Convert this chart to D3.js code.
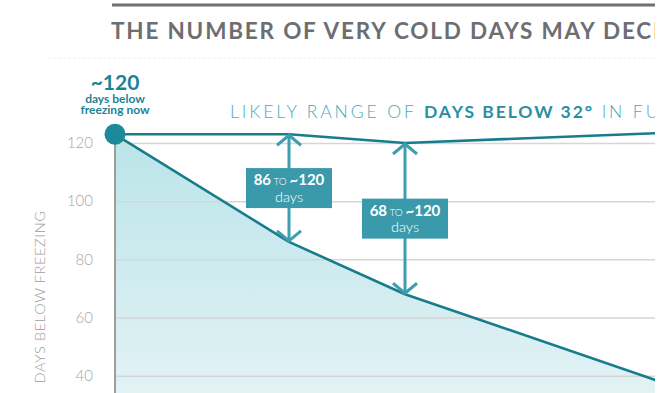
<!DOCTYPE html>
<html>
<head>
<meta charset="utf-8">
<script src="https://cdn.jsdelivr.net/npm/d3@7"></script>
<style>
  html, body { margin: 0; padding: 0; background: #fff; }
  svg { display: block; font-family: Lato, "Open Sans", sans-serif; }
</style>
</head>
<body>
<svg id="chart" width="666" height="393"></svg>
<script>
// Projected days below freezing (32°F)
const years      = [2020, 2050, 2070, 2115];
const fewestDays = [123, 86, 68, 37.3];     // lower edge of the likely range
const mostDays   = [123, 123, 120, 123.5];  // upper edge of the likely range
const yTicks     = [40, 60, 80, 100, 120];

// Range callouts
const calloutYears = [2050, 2070];
const calloutLow   = [86, 68];
const calloutHigh  = [123, 120];
const calloutHighLabel = "~120";

const titleText  = "THE NUMBER OF VERY COLD DAYS MAY DECREASE";
const rangeParts = ["LIKELY RANGE OF ", "DAYS BELOW 32°", " IN FUTURE"];
const yTitle     = "DAYS BELOW FREEZING";
const nowParts   = ["~120", "days below", "freezing now"];

const svg = d3.select("#chart");
const rightEdge = 655;

const x = d3.scaleLinear().domain([2020, 2070]).range([115, 405]);
const y = d3.scaleLinear().domain([40, 120]).range([375.7, 143]);

// Spread a run of text so that its first `count` characters cover `width` px
function spreadTo(sel, width, count) {
  const str = sel.text();
  const n = count || str.length;
  sel.attr("letter-spacing", 0);
  const node = sel.node();
  const w = n === str.length ? node.getComputedTextLength() : node.getSubStringLength(0, n);
  sel.attr("letter-spacing", (width - w) / n);
}

const defs = svg.append("defs");
defs.append("clipPath").attr("id", "frame")
  .append("rect").attr("x", 0).attr("y", 0).attr("width", rightEdge).attr("height", 393);

const grad = defs.append("linearGradient").attr("id", "areaFill")
  .attr("gradientUnits", "userSpaceOnUse")
  .attr("x1", 0).attr("y1", y(123)).attr("x2", 0).attr("y2", 393);
grad.append("stop").attr("offset", "0%").attr("stop-color", "#bae4e9");
grad.append("stop").attr("offset", "100%").attr("stop-color", "#e2f2f5");

const root = svg.append("g").attr("clip-path", "url(#frame)");

// Header rule and title
root.append("line")
  .attr("x1", 112).attr("x2", rightEdge).attr("y1", 5).attr("y2", 5)
  .attr("stroke", "#707174").attr("stroke-width", 3);

const title = root.append("text")
  .attr("x", 111).attr("y", 38.5)
  .attr("fill", "#6d6e71")
  .attr("font-size", 22.5).attr("font-weight", 700)
  .text(titleText);
spreadTo(title, 542, 36);

root.append("line")
  .attr("x1", 48).attr("x2", rightEdge).attr("y1", 58).attr("y2", 58)
  .attr("stroke", "#f0f0f0").attr("stroke-width", 1)
  .attr("stroke-dasharray", "3 2");

// Area under the lower edge
const area = d3.area()
  .x((d, i) => x(years[i]))
  .y0(() => 393 + 20)
  .y1(d => y(d));
root.append("path")
  .datum(fewestDays)
  .attr("d", area)
  .attr("fill", "url(#areaFill)");

// Gridlines and tick labels
const axis = d3.axisLeft(y)
  .tickValues(yTicks)
  .tickSize(-(rightEdge - 115))
  .tickPadding(22)
  .tickFormat(d3.format("d"));
const gAxis = root.append("g")
  .attr("transform", "translate(115,0)")
  .call(axis);
gAxis.select(".domain").remove();
gAxis.selectAll(".tick line")
  .attr("stroke", "#d6d6d6").attr("stroke-width", 1.5);
gAxis.selectAll(".tick text")
  .attr("fill", "#a8a6a3")
  .attr("font-size", 15).attr("font-weight", 300)
  .attr("font-family", "Lato, 'Open Sans', sans-serif");

// Vertical axis line
root.append("line")
  .attr("x1", 115).attr("x2", 115)
  .attr("y1", y(120)).attr("y2", 400)
  .attr("stroke", "#a19d98").attr("stroke-width", 2);

// Axis title
const yt = root.append("text")
  .attr("transform", `translate(45,${297}) rotate(-90)`)
  .attr("text-anchor", "middle")
  .attr("fill", "#9d9d9d")
  .attr("font-size", 14.5).attr("font-weight", 300)
  .text(yTitle);
spreadTo(yt, 173);

// Range edges
const line = d3.line().x((d, i) => x(years[i])).y(d => y(d));
root.append("path").datum(mostDays).attr("d", line)
  .attr("fill", "none").attr("stroke", "#177d8c").attr("stroke-width", 2.6);
root.append("path").datum(fewestDays).attr("d", line)
  .attr("fill", "none").attr("stroke", "#177d8c").attr("stroke-width", 2.6)
  .attr("stroke-linejoin", "round");

// Present-day marker
root.append("circle")
  .attr("cx", x(years[0])).attr("cy", y(mostDays[0]))
  .attr("r", 10.5).attr("fill", "#1b8a9b");

const nowSizes = [21, 12, 12];
const nowBase  = [90, 103, 114];
nowParts.forEach((s, i) => {
  root.append("text")
    .attr("x", x(years[0])).attr("y", nowBase[i])
    .attr("text-anchor", "middle").attr("fill", "#1d8393").attr("font-weight", 700)
    .attr("font-size", nowSizes[i])
    .text(s);
});

// Range heading
const rangeLabel = root.append("text")
  .attr("x", 230).attr("y", 118)
  .attr("font-size", 17.5);
const r0 = rangeLabel.append("tspan").attr("fill", "#4aaab9").attr("font-weight", 300).text(rangeParts[0]);
const r1 = rangeLabel.append("tspan").attr("fill", "#2a8fa1").attr("font-weight", 700).text(rangeParts[1]);
const r2 = rangeLabel.append("tspan").attr("fill", "#4aaab9").attr("font-weight", 300).text(rangeParts[2]);
spreadTo(r0, 194);
spreadTo(r1, 170);
r2.attr("letter-spacing", r0.attr("letter-spacing"));

// Double-headed arrows with value boxes
const arrowColor = "#3c9eaf";
calloutYears.forEach((yr, i) => {
  const cx = x(yr);
  const top = y(calloutHigh[i]);
  const bot = y(calloutLow[i]);
  const g = root.append("g");
  g.append("line")
    .attr("x1", cx).attr("x2", cx).attr("y1", top + 1).attr("y2", bot - 1)
    .attr("stroke", arrowColor).attr("stroke-width", 3);
  const head = 12, headH = 11;
  g.append("polyline")
    .attr("points", `${cx - head},${top + headH} ${cx},${top + 1} ${cx + head},${top + headH}`)
    .attr("fill", "none").attr("stroke", arrowColor).attr("stroke-width", 3);
  g.append("polyline")
    .attr("points", `${cx - head},${bot - headH} ${cx},${bot - 1} ${cx + head},${bot - headH}`)
    .attr("fill", "none").attr("stroke", arrowColor).attr("stroke-width", 3);

  const mid = y((calloutHigh[i] + calloutLow[i]) / 2);
  const w = 86, h = 40;
  g.append("rect")
    .attr("x", cx - w / 2).attr("y", mid - h / 2)
    .attr("width", w).attr("height", h)
    .attr("fill", "#3a9aab");
  const l1 = g.append("text").attr("text-anchor", "middle").attr("fill", "#fff")
    .attr("x", cx).attr("y", mid - 3);
  l1.append("tspan").attr("font-size", 15).attr("font-weight", 700).text(calloutLow[i]);
  l1.append("tspan").attr("font-size", 10).attr("font-weight", 300).text(" TO ");
  l1.append("tspan").attr("font-size", 15).attr("font-weight", 700).text(calloutHighLabel);
  g.append("text").attr("text-anchor", "middle").attr("fill", "#fff")
    .attr("x", cx).attr("y", mid + 13.5)
    .attr("font-size", 14.5).attr("font-weight", 300).text("days");
});
</script>
</body>
</html>
